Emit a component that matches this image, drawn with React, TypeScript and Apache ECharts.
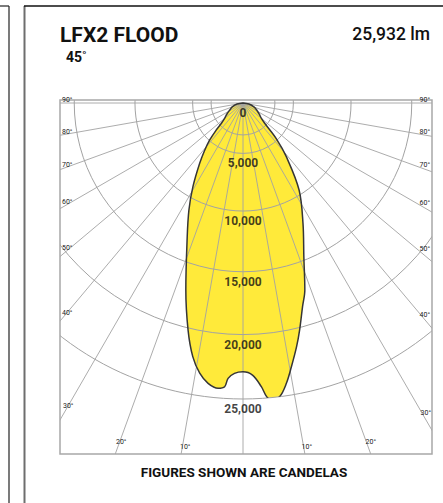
import React, { useEffect, useRef } from "react";
import * as echarts from "echarts";

// ---------- data ----------
const CHART_TITLE = "LFX2 FLOOD";
const BEAM_ANGLE = "45˚";
const LUMEN_TEXT = "25,932 lm";
const FOOTNOTE = "FIGURES SHOWN ARE CANDELAS";

// candela rings labelled on the nadir line
const RING_VALUES = [0, 5000, 10000, 15000, 20000, 25000];
// small unlabelled inner ring near the lamp
const INNER_RING_VALUE = 3300;
// angle ticks (degrees from nadir), both sides
const ANGLE_TICKS = [10, 20, 30, 40, 50, 60, 70, 80, 90];

// candela distribution: angle from nadir (deg, + = right) and candela
const CURVE_ANGLES = [
  -90, -80, -70, -62, -55, -50, -46.8, -44.5, -42, -39, -35.7, -30.9, -26.8,
  -22.2, -17, -13.6, -11.2, -9.1, -7.1, -5, -3.7, -3.1, -1.8, 0, 2, 3.7, 4.6,
  5.5, 7.1, 8.8, 10.4, 12.4, 14, 16.3, 18.3, 21.6, 26.5, 32.8, 38.9, 43, 46.9,
  50, 55, 62, 70, 80, 90,
];
const CURVE_CANDELA = [
  0, 720, 1300, 1660, 2160, 2550, 3080, 3960, 4940, 5950, 7110, 9110, 11000,
  13310, 17150, 20160, 22110, 23280, 23960, 24260, 24100, 23440, 23030, 22900,
  23170, 24100, 24890, 25180, 25000, 24050, 22850, 21400, 20190, 18470, 17260,
  14720, 12200, 9620, 6650, 4870, 3090, 2550, 2160, 1750, 1350, 720, 0,
];

// ---------- layout / scale ----------
const FONT = "Roboto";
const CX = 243;
const CY = 103;
const RING_MAX = 25000;
const RING_RADIUS_PX = 296;
const RAY_RADIUS_PX = 440;
// the diagram's radial scale is a mild power scale (outer rings spread wider)
const RADIAL_EXPONENT = 1.1;
const toRadial = (cd: number) => RING_MAX * Math.pow(Math.max(cd, 0) / RING_MAX, RADIAL_EXPONENT);

const FRAME = { x: 60, y: 100, w: 372, h: 354 };
const GRID_COLOR = "#a3a3a3";

// label placements for angle ticks, keyed by angle
const LEFT_LABEL_POS: Record<number, [number, number]> = {
  90: [62, 100], 80: [62, 132], 70: [62, 165], 60: [62, 202], 50: [62, 248],
  40: [62, 313], 30: [63, 406], 20: [116, 442], 10: [180, 447],
};
const RIGHT_LABEL_POS: Record<number, [number, number]> = {
  90: [430, 100], 80: [430, 132], 70: [430, 165], 60: [430, 203], 50: [430, 249],
  40: [430, 315], 30: [431, 413], 20: [376, 442], 10: [312, 447],
};

const toAxisAngle = (a: number) => (a < 0 ? 360 + a : a);

function buildOption() {
  const curve = CURVE_ANGLES.map((a, i) => [toRadial(CURVE_CANDELA[i]), toAxisAngle(a)]);
  const rayAngles = [...ANGLE_TICKS.map((a) => -a).reverse(), 0, ...ANGLE_TICKS];
  const gridRings = [INNER_RING_VALUE, ...RING_VALUES.filter((v) => v > 0)];

  const angleLabels: any[] = [];
  ANGLE_TICKS.forEach((t) => {
    const l = LEFT_LABEL_POS[t];
    const r = RIGHT_LABEL_POS[t];
    angleLabels.push({
      type: "text", x: l[0], y: l[1], z: 120,
      style: { text: `${t}°`, fontSize: 7, fontFamily: FONT, fill: "#222", align: "left", verticalAlign: "middle" },
    });
    angleLabels.push({
      type: "text", x: r[0], y: r[1], z: 120,
      style: { text: `${t}°`, fontSize: 7, fontFamily: FONT, fill: "#222", align: "right", verticalAlign: "middle" },
    });
  });

  const W = 443, H = 503;
  const masks = [
    { type: "rect", z: 100, shape: { x: 0, y: 0, width: W, height: FRAME.y }, style: { fill: "#fff" } },
    { type: "rect", z: 100, shape: { x: 0, y: 0, width: FRAME.x, height: H }, style: { fill: "#fff" } },
    { type: "rect", z: 100, shape: { x: FRAME.x + FRAME.w, y: 0, width: W, height: H }, style: { fill: "#fff" } },
    { type: "rect", z: 100, shape: { x: 0, y: FRAME.y + FRAME.h, width: W, height: H }, style: { fill: "#fff" } },
  ];

  const panel = [
    { type: "line", z: 110, shape: { x1: 0, y1: 6, x2: 9, y2: 6 }, style: { stroke: "#222", lineWidth: 1.2 } },
    { type: "line", z: 110, shape: { x1: 9, y1: 6, x2: 9, y2: H }, style: { stroke: "#222", lineWidth: 1.2 } },
    { type: "line", z: 110, shape: { x1: 24.5, y1: 6, x2: 24.5, y2: H }, style: { stroke: "#6e6e6e", lineWidth: 2 } },
    { type: "line", z: 111, shape: { x1: 24, y1: 6, x2: W, y2: 6 }, style: { stroke: "#111", lineWidth: 1.3 } },
    { type: "rect", z: 110, shape: { x: FRAME.x, y: FRAME.y, width: FRAME.w, height: FRAME.h }, style: { fill: "none", stroke: "#a8a8a8", lineWidth: 1.5 } },
  ];

  const texts = [
    { type: "text", z: 120, x: 60, y: 35, style: { text: CHART_TITLE, fontSize: 21, fontWeight: "bold", fontFamily: FONT, fill: "#111", align: "left", verticalAlign: "middle" } },
    { type: "text", z: 120, x: 66, y: 57, style: { text: BEAM_ANGLE, fontSize: 14, fontWeight: "bold", fontFamily: FONT, fill: "#111", align: "left", verticalAlign: "middle" } },
    { type: "text", z: 120, x: 430, y: 34, style: { text: LUMEN_TEXT, fontSize: 17.5, fontWeight: 500, fontFamily: FONT, fill: "#111", align: "right", verticalAlign: "middle" } },
    { type: "text", z: 120, x: 244, y: 472, style: { text: FOOTNOTE, fontSize: 13.5, fontWeight: "bold", fontFamily: FONT, fill: "#111", align: "center", verticalAlign: "middle" } },
  ];

  const hidden = { axisLine: { show: false }, axisTick: { show: false }, axisLabel: { show: false }, splitLine: { show: false } };

  return {
    animation: false,
    backgroundColor: "#fff",
    polar: [
      { center: [CX, CY], radius: RING_RADIUS_PX },
      { center: [CX, CY], radius: RAY_RADIUS_PX },
    ],
    angleAxis: [
      { polarIndex: 0, type: "value", min: 0, max: 360, startAngle: 270, clockwise: false, ...hidden },
      { polarIndex: 1, type: "value", min: 0, max: 360, startAngle: 270, clockwise: false, ...hidden },
    ],
    radiusAxis: [
      { polarIndex: 0, type: "value", min: 0, max: RING_MAX, ...hidden },
      { polarIndex: 1, type: "value", min: 0, max: 1, ...hidden },
    ],
    graphic: [...masks, ...panel, ...texts, ...angleLabels],
    series: [
      {
        type: "line", coordinateSystem: "polar", polarIndex: 0, z: 1, silent: true,
        data: curve, symbol: "none", smooth: 0.35, clip: false,
        lineStyle: { width: 0 },
        areaStyle: { color: "#FFEA3A", opacity: 1 },
      },
      {
        // radial angle lines (nadir = 0°, out to ±90°)
        type: "custom", coordinateSystem: "polar", polarIndex: 1, z: 5, silent: true, clip: false,
        data: rayAngles.map((a) => [1, toAxisAngle(a)]),
        renderItem: (_p: any, api: any) => {
          const ang = api.value(1);
          const o = api.coord([0, ang]);
          const p = api.coord([api.value(0), ang]);
          return {
            type: "line",
            shape: { x1: o[0], y1: o[1], x2: p[0], y2: p[1] },
            style: { stroke: GRID_COLOR, lineWidth: 0.9 },
          };
        },
      },
      {
        // candela rings
        type: "custom", coordinateSystem: "polar", polarIndex: 0, z: 5, silent: true, clip: false,
        data: gridRings.map((v) => [toRadial(v), 0]),
        renderItem: (_p: any, api: any) => {
          const o = api.coord([0, 0]);
          const p = api.coord([api.value(0), 0]);
          const r = Math.hypot(p[0] - o[0], p[1] - o[1]);
          return {
            type: "circle",
            shape: { cx: o[0], cy: o[1], r },
            style: { fill: "none", stroke: GRID_COLOR, lineWidth: 1 },
          };
        },
      },
      {
        type: "line", coordinateSystem: "polar", polarIndex: 0, z: 8, silent: true,
        data: curve, symbol: "none", smooth: 0.35, clip: false,
        lineStyle: { color: "#363636", width: 1.5 },
      },
      {
        type: "scatter", coordinateSystem: "polar", polarIndex: 0, z: 9, silent: true,
        symbolSize: 1, itemStyle: { color: "rgba(0,0,0,0)" },
        data: RING_VALUES.map((v) => [toRadial(v), 0, v]),
        label: {
          show: true, position: "inside", offset: [0, 10],
          formatter: (p: any) => Number(p.value[2]).toLocaleString("en-US"),
          fontSize: 12, fontWeight: "bold", fontFamily: FONT, color: "#111",
        },
      },
    ],
  };
}

export default function App() {
  const ref = useRef<HTMLDivElement>(null);
  useEffect(() => {
    if (!ref.current) return;
    const chart = echarts.init(ref.current, null, { renderer: "svg" });
    chart.setOption(buildOption() as any);
    return () => chart.dispose();
  }, []);
  return (
    <div
      ref={ref}
      style={{ position: "fixed", left: 0, top: 0, width: 443, height: 503, background: "#fff", opacity: 0.999 }}
    />
  );
}
